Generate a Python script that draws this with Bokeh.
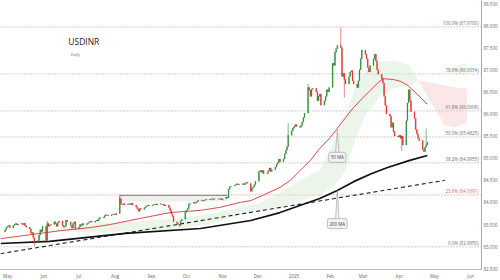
import pandas as pd
from bokeh.plotting import figure
from bokeh.models import ColumnDataSource, Range1d, FixedTicker, Label, Span, NumeralTickFormatter
from bokeh.embed import file_html
from bokeh.resources import INLINE

SYMBOL = "USDINR"
TIMEFRAME = "Daily"

# daily closes, Mon 2024-04-29 .. Fri 2025-04-25 (one row per week)
closes = [
    83.38, 83.44, 83.46, 83.48, 83.42,
    83.48, 83.50, 83.52, 83.49, 83.51,
    83.52, 83.50, 83.53, 83.47, 83.44,
    83.40, 83.30, 83.32, 83.20, 83.08,
    83.14, 83.26, 83.38, 83.34, 83.46,
    83.14, 83.52, 83.46, 83.48, 83.50,
    83.56, 83.52, 83.46, 83.54, 83.58,
    83.48, 83.44, 83.46, 83.60, 83.56,
    83.48, 83.42, 83.52, 83.56, 83.40,
    83.44, 83.50, 83.48, 83.52, 83.50,
    83.52, 83.54, 83.56, 83.58, 83.55,
    83.58, 83.60, 83.58, 83.63, 83.66,
    83.65, 83.70, 83.72, 83.71, 83.70,
    83.72, 83.73, 83.74, 83.72, 83.75,
    84.08, 83.96, 83.95, 83.97, 83.94,
    83.96, 83.97, 83.95, 83.98, 83.94,
    83.90, 83.85, 83.80, 83.86, 83.84,
    83.88, 83.90, 83.92, 83.94, 83.92,
    83.94, 83.95, 83.96, 83.94, 83.97,
    83.96, 83.95, 83.96, 83.92, 83.94,
    83.88, 83.82, 83.74, 83.68, 83.56,
    83.52, 83.50, 83.48, 83.58, 83.62,
    83.78, 83.82, 83.86, 83.96, 83.98,
    84.00, 83.98, 84.00, 84.02, 84.05,
    84.04, 84.03, 84.05, 84.06, 84.07,
    84.06, 84.07, 84.08, 84.07, 84.08,
    84.08, 84.07, 84.08, 84.06, 84.08,
    84.12, 84.10, 84.30, 84.36, 84.37,
    84.38, 84.40, 84.42, 84.40, 84.41,
    84.42, 84.40, 84.44, 84.45, 84.43,
    84.25, 84.32, 84.35, 84.40, 84.48,
    84.70, 84.72, 84.68, 84.72, 84.65,
    84.66, 84.72, 84.78, 84.70, 84.74,
    84.80, 84.86, 84.90, 84.98, 84.92,
    84.98, 85.10, 85.18, 85.26, 85.52,
    85.62, 85.68, 85.72, 85.76, 85.72,
    85.70, 85.74, 85.82, 85.92, 86.02,
    86.60, 86.54, 86.40, 86.56, 86.58,
    86.50, 86.30, 86.40, 86.45, 86.20,
    86.30, 86.40, 86.55, 86.50, 86.60,
    87.15, 87.10, 87.40, 87.48, 87.55,
    87.50, 86.85, 86.92, 86.78, 86.68,
    86.85, 86.95, 86.98, 86.75, 86.68,
    86.60, 86.75, 87.00, 87.25, 87.45,
    87.35, 87.25, 87.05, 86.95, 87.10,
    87.25, 87.35, 87.20, 87.00, 86.90,
    86.80, 86.70, 86.40, 86.20, 86.00,
    85.95, 85.70, 85.80, 85.60, 85.50,
    85.48, 85.52, 85.45, 85.50, 85.30,
    85.85, 86.25, 86.55, 86.30, 86.05,
    85.90, 85.65, 85.55, 85.45, 85.40,
    85.20, 85.15, 85.25, 85.30, 85.36,
]
first_open = 83.33
wick_high = {"2024-08-05": 84.15, "2024-12-27": 85.80, "2025-01-13": 86.68,
             "2025-02-10": 87.96, "2025-04-24": 85.67, "2024-06-04": 83.58}
wick_low = {"2024-05-24": 83.02, "2024-09-25": 83.45, "2025-02-13": 86.37,
            "2025-04-03": 85.17}

ma50_dates = ["2024-04-25", "2024-05-21", "2024-06-15", "2024-07-11", "2024-07-28",
              "2024-08-23", "2024-09-17", "2024-10-13", "2024-10-30", "2024-11-16",
              "2024-11-25", "2024-12-07", "2024-12-20", "2024-12-29", "2025-01-06",
              "2025-01-15", "2025-01-23", "2025-02-01", "2025-02-07", "2025-02-14",
              "2025-02-21", "2025-03-01", "2025-03-07", "2025-03-14", "2025-03-18",
              "2025-03-27", "2025-04-02", "2025-04-08", "2025-04-16", "2025-04-25"]
ma50_vals = [83.18, 83.27, 83.36, 83.43, 83.50,
             83.64, 83.77, 83.82, 83.89, 84.00,
             84.04, 84.18, 84.34, 84.50, 84.72,
             84.95, 85.22, 85.47, 85.67, 85.92,
             86.15, 86.37, 86.53, 86.71, 86.80,
             86.78, 86.74, 86.65, 86.46, 86.22]

ma200_dates = ["2024-04-25", "2024-06-06", "2024-08-10", "2024-10-13", "2024-11-25",
               "2024-12-20", "2025-01-06", "2025-01-23", "2025-02-07", "2025-02-21",
               "2025-03-08", "2025-03-22", "2025-04-10", "2025-04-25"]
ma200_vals = [83.07, 83.12, 83.30, 83.41, 83.59,
              83.77, 83.93, 84.09, 84.27, 84.47,
              84.65, 84.79, 84.95, 85.06]

trend_dates = ["2024-04-25", "2025-05-10"]
trend_vals = [82.84, 84.50]

cloud_up_dates = ["2024-06-11", "2024-07-02", "2024-07-19", "2024-08-05", "2024-08-31",
                  "2024-09-25", "2024-10-21", "2024-11-16", "2024-12-03", "2024-12-20",
                  "2025-01-06", "2025-01-23", "2025-02-05", "2025-02-14", "2025-02-22",
                  "2025-03-03", "2025-03-16", "2025-03-28", "2025-04-10", "2025-04-17"]
cloud_up_top = [83.41, 83.46, 83.55, 83.55, 83.59,
                83.64, 83.73, 83.89, 83.98, 84.22,
                84.50, 84.72, 85.40, 85.97, 86.58,
                86.98, 87.17, 87.21, 87.10, 86.76]
cloud_up_bot = [83.34, 83.32, 83.32, 83.34, 83.36,
                83.41, 83.50, 83.73, 83.82, 83.86,
                84.04, 84.16, 84.38, 84.72, 85.40,
                85.97, 86.42, 86.58, 86.65, 86.76]
cloud_dn_dates = ["2025-04-17", "2025-04-27", "2025-05-10", "2025-05-19", "2025-05-29"]
cloud_dn_top = [86.76, 86.71, 86.65, 86.60, 86.58]
cloud_dn_bot = [86.76, 86.31, 85.74, 85.70, 85.81]
cloud_up2_dates = ["2025-05-10", "2025-05-19", "2025-05-29"]
cloud_up2_top = [86.95, 87.10, 87.15]
cloud_up2_bot = [86.95, 86.90, 86.87]

zone_dates = ["2024-08-05", "2024-11-05"]
zone_vals = [84.02, 84.16]

fib_names = ["100.0%", "78.6%", "61.8%", "50.0%", "38.2%", "23.6%", "0.0%"]
fib_values = [87.9700, 86.9054, 86.0698, 85.4825, 84.8955, 84.1691, 82.9950]

last_close = 85.3558
last_ma50 = 86.2162
last_ma200 = 85.0644

callout_date = "2025-02-07"
callout50_val, callout50_box = 85.65, 85.02
callout200_val, callout200_box = 84.27, 83.52

month_ticks = ["2024-05-01", "2024-06-01", "2024-07-01", "2024-08-01", "2024-09-01",
               "2024-10-01", "2024-11-01", "2024-12-01", "2025-01-01", "2025-02-01",
               "2025-03-01", "2025-04-01", "2025-05-01", "2025-06-01"]
month_labels = ["May", "Jun", "Jul", "Aug", "Sep", "Oct", "Nov", "Dec", "2025",
                "Feb", "Mar", "Apr", "May", "Jun"]
price_ticks = [82.5, 83.0, 83.5, 84.0, 84.5, 85.0, 85.5, 86.0, 86.5, 87.0, 87.5, 88.0, 88.5]

# ---------------------------------------------------------------
FONT = "Open Sans"
GREEN = "#2f8a3a"
RED = "#e0312f"
T = pd.to_datetime
DAY = 86400000

dates = pd.bdate_range("2024-04-29", periods=len(closes))
opens = [first_open] + closes[:-1]
highs, lows = [], []
for d, o, c in zip(dates, opens, closes):
    key = d.strftime("%Y-%m-%d")
    highs.append(wick_high.get(key, max(o, c)))
    lows.append(wick_low.get(key, min(o, c)))
colors = [GREEN if c >= o else RED for o, c in zip(opens, closes)]
src = ColumnDataSource(dict(x=dates, o=opens, c=closes, h=highs, l=lows,
                            top=[max(o, c) for o, c in zip(opens, closes)],
                            bot=[min(o, c) for o, c in zip(opens, closes)],
                            col=colors))

x_start = T("2024-04-25 00:24")
x_end = T("2025-06-10 07:00")

p = figure(x_axis_type="datetime", frame_width=481, frame_height=269,
           x_range=Range1d(x_start, x_end), y_range=Range1d(82.482, 88.568),
           y_axis_location="right", toolbar_location=None, output_backend="svg",
           min_border_left=0, min_border_top=0, min_border_right=19, min_border_bottom=11,
           background_fill_color="white", border_fill_color="white",
           outline_line_color=None)
p.xgrid.visible = False
p.ygrid.visible = False

# cloud
p.varea(x=T(cloud_up_dates), y1=cloud_up_bot, y2=cloud_up_top, fill_color="#cfe8cc", fill_alpha=0.42)
p.varea(x=T(cloud_up2_dates), y1=cloud_up2_bot, y2=cloud_up2_top, fill_color="#cfe8cc", fill_alpha=0.3)
p.varea(x=T(cloud_dn_dates), y1=cloud_dn_bot, y2=cloud_dn_top, fill_color="#f6c9c9", fill_alpha=0.45)

# zone
z0, z1 = T(zone_dates[0]), T(zone_dates[1])
p.quad(left=[z0], right=[z1], bottom=[zone_vals[0]], top=[zone_vals[1]],
       fill_color="#dcdcdc", fill_alpha=0.45, line_color=None)
p.line([z0, z1], [zone_vals[1], zone_vals[1]], line_color="#808080", line_width=1)
p.line([z0, z0], [zone_vals[0], zone_vals[1]], line_color="#808080", line_width=0.8)

# fib lines + labels
for name, v in zip(fib_names, fib_values):
    col_line = "#e07a7a" if name == "23.6%" else "#a0a0a0"
    col_txt = "#d95f5f" if name == "23.6%" else "#707070"
    p.add_layout(Span(location=v, dimension="width", line_color=col_line, line_width=1,
                      line_dash="1 2", level="underlay"))
    p.add_layout(Label(x=x_end, y=v, x_offset=-3, y_offset=1, text=f"{name} ({v:.4f})",
                       text_align="right", text_baseline="bottom", text_font=FONT,
                       text_font_size="4.5px", text_color=col_txt))

# trend line & MAs
p.line(T(trend_dates), trend_vals, line_color="#222222", line_width=1.1, line_dash="4 3")
p.line(T(ma200_dates), ma200_vals, line_color="#111111", line_width=1.7)
p.line(T(ma50_dates), ma50_vals, line_color="#e04848", line_width=1.0)

# candles
p.segment(x0="x", y0="l", x1="x", y1="h", source=src, line_color="col", line_width=0.6)
p.vbar(x="x", width=0.75 * DAY, top="top", bottom="bot", source=src,
       fill_color="col", line_color="col", line_width=0.3)

# callouts
cd = T(callout_date)
for tip, box, txt in [(callout50_val, callout50_box, "50 MA"), (callout200_val, callout200_box, "200 MA")]:
    base = box + 0.09
    p.patch([cd - pd.Timedelta(hours=36), cd, cd + pd.Timedelta(hours=36)], [base, tip, base],
            fill_color="#f3f3f3", line_color="#999999", line_width=0.6)
    p.add_layout(Label(x=cd, y=box, text=txt, text_align="center", text_baseline="middle",
                       text_font=FONT, text_font_size="4.5px", text_color="#444444",
                       background_fill_color="#f3f3f3", border_line_color="#999999",
                       border_line_width=0.6, padding=2, border_radius=2))

# title
p.add_layout(Label(x=T("2024-06-22"), y=87.63, text=SYMBOL, text_align="left", text_baseline="middle",
                   text_font=FONT, text_font_size="8.5px", text_color="#1a1a1a"))
p.add_layout(Label(x=T("2024-06-24"), y=87.35, text=TIMEFRAME, text_align="left", text_baseline="middle",
                   text_font=FONT, text_font_size="4px", text_color="#666666"))

# axes
ya = p.yaxis[0]
ya.ticker = FixedTicker(ticks=price_ticks)
ya.formatter = NumeralTickFormatter(format="0.000")
ya.major_label_text_font = FONT
ya.major_label_text_font_size = "4.5px"
ya.major_label_text_color = "#666666"
ya.major_tick_out = 0
ya.major_tick_in = 0
ya.minor_tick_out = 0
ya.minor_tick_in = 0
ya.major_label_standoff = 2
ya.axis_line_color = "#aaaaaa"

xa = p.xaxis[0]
tick_ms = [T(d).value / 1e6 for d in month_ticks]
xa.ticker = FixedTicker(ticks=tick_ms)
xa.major_label_overrides = {t: lab for t, lab in zip(tick_ms, month_labels)}
xa.major_label_text_font = FONT
xa.major_label_text_font_size = "4.5px"
xa.major_label_text_color = "#666666"
xa.major_tick_out = 0
xa.major_tick_in = 0
xa.minor_tick_out = 0
xa.minor_tick_in = 0
xa.major_label_standoff = 3
xa.axis_line_color = "#bbbbbb"

# last-value tags
for v, bg in [(last_ma50, RED), (last_close, GREEN), (last_ma200, "#111111")]:
    p.add_layout(Label(x=x_end, y=v, x_offset=2, text=f"{v:.4f}", text_align="left",
                       text_baseline="middle", text_font=FONT, text_font_size="4.5px",
                       text_color="white", background_fill_color=bg, padding=1))

open("out.html", "w").write(file_html(p, INLINE))
